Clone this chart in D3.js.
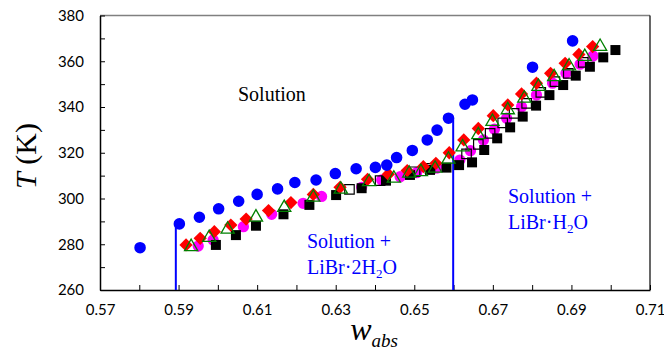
<!DOCTYPE html>
<html><head><meta charset="utf-8">
<script src="https://cdn.jsdelivr.net/npm/d3@7"></script>
<style>body{margin:0;background:#fff}</style>
</head><body>
<svg id="c" width="664" height="359" xmlns="http://www.w3.org/2000/svg"></svg>
<script>
// ---- data ----
const xMajorTicks = [0.57, 0.59, 0.61, 0.63, 0.65, 0.67, 0.69, 0.71];
const xMinorTicks = [0.58, 0.60, 0.62, 0.64, 0.66, 0.68, 0.70];
const yMajorTicks = [260, 280, 300, 320, 340, 360, 380];
const yMinorTicks = [270, 290, 310, 330, 350, 370];

const blueCircles = [[0.5802,278.5],[0.5902,288.9],[0.5953,291.8],[0.6002,295.5],[0.6053,298.8],[0.6100,301.8],[0.6152,304.2],[0.6196,307.0],[0.6250,308.1],[0.6299,310.9],[0.6352,313.0],[0.6401,313.6],[0.6430,314.6],[0.6455,317.9],[0.6495,321.0],[0.6533,325.6],[0.6558,329.9],[0.6587,335.1],[0.6629,341.2],[0.6648,343.1],[0.6801,357.4],[0.6903,368.9]];
const redDiamonds = [[0.5919,279.7],[0.5955,282.6],[0.5991,285.5],[0.6033,288.4],[0.6072,291.0],[0.6129,294.7],[0.6186,298.2],[0.6243,301.8],[0.6311,304.9],[0.6381,308.4],[0.6434,310.6],[0.6482,312.2],[0.6523,313.9],[0.6555,315.4],[0.6589,320.0],[0.6626,325.6],[0.6663,330.6],[0.6701,336.2],[0.6738,340.9],[0.6773,345.7],[0.6811,350.4],[0.6847,354.7],[0.6884,359.1],[0.6919,363.0],[0.6954,366.4]];
const greenTriangles = [[0.5932,278.9],[0.5978,282.9],[0.6025,286.5],[0.6097,291.8],[0.6169,296.0],[0.6243,300.5],[0.6313,304.0],[0.6385,307.3],[0.6448,308.8],[0.6487,311.0],[0.6517,311.7],[0.6553,313.2],[0.6587,317.1],[0.6623,322.5],[0.6663,327.8],[0.6699,333.6],[0.6738,338.7],[0.6780,343.8],[0.6816,348.9],[0.6856,353.2],[0.6894,357.9],[0.6934,362.0],[0.6973,366.4]];
const magentaCircles = [[0.5950,279.2],[0.5988,281.9],[0.6065,287.7],[0.6137,293.1],[0.6217,297.9],[0.6264,300.9],[0.6366,304.9],[0.6417,308.1],[0.6464,309.5],[0.6506,311.3],[0.6558,313.3],[0.6616,316.8],[0.6643,320.9],[0.6676,325.6],[0.6704,330.3],[0.6735,335.1],[0.6773,340.1],[0.6811,345.2],[0.6852,350.4],[0.6886,354.7],[0.6922,358.7],[0.6955,362.3]];
const openSquares = [[0.6335,304.0],[0.6413,307.8],[0.6502,311.7],[0.6540,313.2],[0.6633,319.5],[0.6663,323.7],[0.6693,328.5],[0.6725,333.1],[0.6754,337.2],[0.6786,341.6],[0.6822,346.4],[0.6858,351.1],[0.6892,354.7],[0.6930,359.5]];
const blackSquares = [[0.5995,279.7],[0.6046,284.0],[0.6097,288.1],[0.6167,293.1],[0.6233,297.2],[0.6301,301.5],[0.6366,304.5],[0.6428,307.8],[0.6489,310.3],[0.6540,312.5],[0.6582,313.5],[0.6614,314.6],[0.6647,315.8],[0.6678,321.2],[0.6711,326.3],[0.6744,331.1],[0.6776,335.8],[0.6810,340.6],[0.6844,345.2],[0.6879,349.6],[0.6911,353.7],[0.6947,357.6],[0.6981,361.7],[0.7012,364.9]];
const phaseLines = [[0.5893,288.9],[0.6599,335.4]];

// ---- scales ----
const svg = d3.select("#c");
const x = d3.scaleLinear().domain([0.57, 0.71]).range([100, 650]);
const y = d3.scaleLinear().domain([260, 380]).range([290, 15.5]);

// frame
svg.append("line").attr("x1",x(0.57)).attr("x2",x(0.71)).attr("y1",y(380)).attr("y2",y(380)).attr("stroke","#808080").attr("stroke-width",1.5);
svg.append("line").attr("x1",x(0.71)).attr("x2",x(0.71)).attr("y1",y(380)).attr("y2",y(260)).attr("stroke","#000").attr("stroke-width",1.2);

// axes
const tickFont = "Lato, 'Open Sans', sans-serif";
const xAxis = d3.axisBottom(x).tickValues(xMajorTicks.concat(xMinorTicks)).tickSizeInner(-5).tickSizeOuter(0)
  .tickPadding(14).tickFormat(d => xMajorTicks.some(t => Math.abs(t-d)<1e-9) ? d3.format(".2f")(d) : "");
const gx = svg.append("g").attr("transform",`translate(0,${y(260)})`).call(xAxis);
gx.select(".domain").attr("stroke","#000").attr("stroke-width",1.5);
gx.selectAll(".tick line").attr("stroke","#000").attr("stroke-width",1);
gx.selectAll(".tick text").attr("font-family",tickFont).attr("font-size",15).attr("fill","#000").attr("dy","0.72em");

const yAxis = d3.axisLeft(y).tickValues(yMajorTicks.concat(yMinorTicks)).tickSizeInner(-5).tickSizeOuter(0)
  .tickPadding(16).tickFormat(d => yMajorTicks.includes(d) ? d : "");
const gy = svg.append("g").attr("transform",`translate(${x(0.57)},0)`).call(yAxis);
gy.select(".domain").attr("stroke","#000").attr("stroke-width",1.5);
gy.selectAll(".tick line").attr("stroke","#000").attr("stroke-width",1);
gy.selectAll(".tick text").attr("font-family",tickFont).attr("font-size",15).attr("fill","#000");

// phase boundary lines
svg.selectAll("line.phase").data(phaseLines).enter().append("line").attr("class","phase")
  .attr("x1",d=>x(d[0])).attr("x2",d=>x(d[0])).attr("y1",y(260)).attr("y2",d=>y(d[1]))
  .attr("stroke","#0000ff").attr("stroke-width",2);

// markers
function plot(data, type, size, fill, stroke, sw, rot) {
  const sym = d3.symbol().type(type).size(size);
  svg.append("g").selectAll("path").data(data).enter().append("path")
    .attr("d", sym)
    .attr("transform", d => `translate(${x(d[0])},${y(d[1])})` + (rot ? ` rotate(${rot})` : ""))
    .attr("fill", fill).attr("stroke", stroke).attr("stroke-width", sw);
}
plot(magentaCircles, d3.symbolCircle, 100, "#ff00ff", "none", 0);
plot(blackSquares, d3.symbolSquare, 100, "#000", "none", 0);
plot(openSquares, d3.symbolSquare, 90, "none", "#000", 1.2);
plot(redDiamonds, d3.symbolSquare, 88, "#ff0000", "none", 0, 45);
plot(greenTriangles, d3.symbolTriangle, 75, "none", "#008000", 1.3);
plot(blueCircles, d3.symbolCircle, 105, "#0000ff", "none", 0);

// annotations
const serif = "'Liberation Serif', 'Times New Roman', serif";
svg.append("text").attr("x",238).attr("y",101).attr("font-family",serif).attr("font-size",20).attr("fill","#000").text("Solution");
function twoLine(x0, y0, second) {
  const t = svg.append("text").attr("font-family",serif).attr("font-size",20).attr("fill","#0000ff");
  t.append("tspan").attr("x",x0).attr("y",y0).text("Solution +");
  const t2 = svg.append("text").attr("font-family",serif).attr("font-size",20).attr("fill","#0000ff").attr("x",x0).attr("y",y0+26);
  second(t2);
}
twoLine(307, 248, t => {
  t.append("tspan").text("LiBr·2H");
  t.append("tspan").attr("font-size",13).attr("dy",4).text("2");
  t.append("tspan").attr("dy",-4).text("O");
});
twoLine(508, 203, t => {
  t.append("tspan").text("LiBr·H");
  t.append("tspan").attr("font-size",13).attr("dy",4).text("2");
  t.append("tspan").attr("dy",-4).text("O");
});

// axis titles
const yt = svg.append("text").attr("transform","translate(36,156) rotate(-90)").attr("text-anchor","middle")
  .attr("font-family",serif).attr("font-size",30).attr("fill","#000");
yt.append("tspan").attr("font-style","italic").text("T");
yt.append("tspan").text(" (K)");
const xt = svg.append("text").attr("x",374).attr("y",340).attr("text-anchor","middle")
  .attr("font-family",serif).attr("font-size",32).attr("fill","#000").attr("font-style","italic");
xt.append("tspan").text("w");
xt.append("tspan").attr("font-size",19).attr("dy",7).text("abs");
</script>
</body></html>
